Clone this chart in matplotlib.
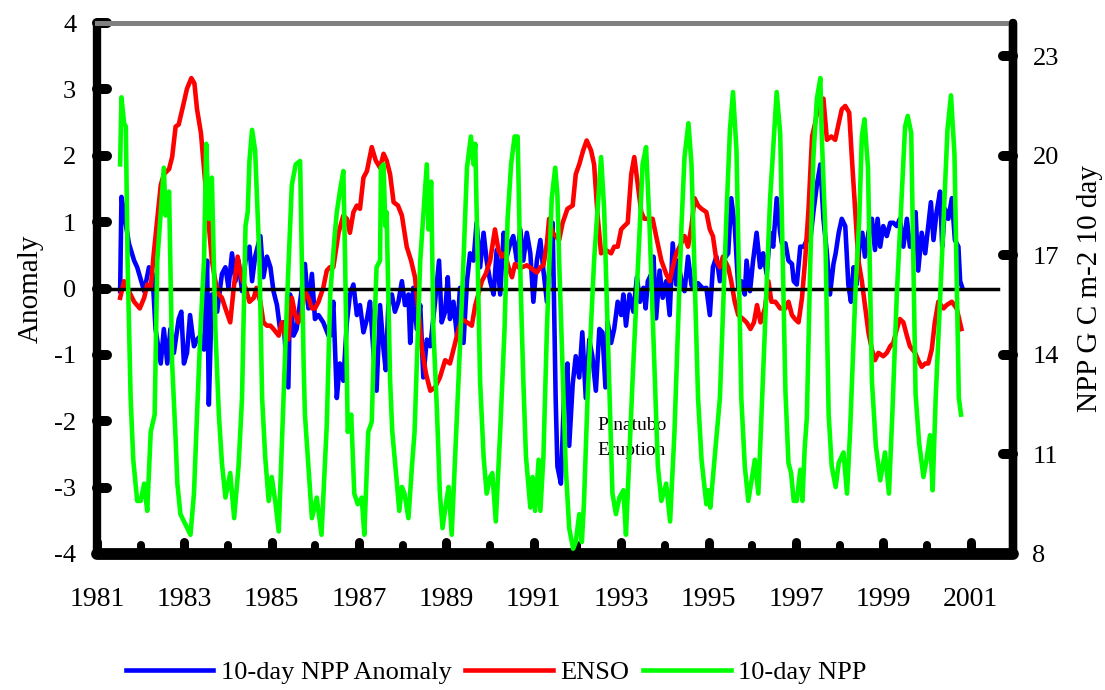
import matplotlib
matplotlib.use("Agg")
import matplotlib.pyplot as plt
from matplotlib.markers import MarkerStyle, TICKUP, TICKLEFT, TICKRIGHT

plt.rcParams['font.family'] = ['Liberation Serif', 'DejaVu Serif']
plt.rcParams['axes.unicode_minus'] = False

# 10-day NPP anomaly (left axis)
blue_years = [
    1981.53, 1981.56, 1981.58, 1981.73, 1981.85, 1981.92, 1982.08, 1982.19, 1982.27, 1982.34,
    1982.46, 1982.53, 1982.61, 1982.68, 1982.76, 1982.87, 1982.93, 1982.99, 1983.06, 1983.13,
    1983.22, 1983.29, 1983.37, 1983.45, 1983.52, 1983.56, 1983.63, 1983.75, 1983.86, 1983.94,
    1984.01, 1984.09, 1984.17, 1984.24, 1984.32, 1984.40, 1984.49, 1984.55, 1984.62, 1984.74,
    1984.81, 1984.89, 1984.97, 1985.04, 1985.12, 1985.19, 1985.27, 1985.38, 1985.42, 1985.50,
    1985.57, 1985.65, 1985.76, 1985.84, 1985.92, 1985.99, 1986.07, 1986.18, 1986.30,
    1986.34, 1986.41, 1986.49, 1986.56, 1986.64, 1986.72, 1986.79, 1986.87, 1986.95, 1987.02,
    1987.10, 1987.18, 1987.25, 1987.33, 1987.40, 1987.48, 1987.56, 1987.61, 1987.67, 1987.75,
    1987.82, 1987.90, 1987.98, 1988.05, 1988.13, 1988.17, 1988.24, 1988.32, 1988.40, 1988.47,
    1988.55, 1988.63, 1988.74, 1988.83, 1988.89, 1988.97, 1989.03, 1989.08, 1989.16, 1989.24,
    1989.31, 1989.39, 1989.47, 1989.54, 1989.62, 1989.69, 1989.77, 1989.85, 1989.92, 1990.00,
    1990.08, 1990.15, 1990.23, 1990.31, 1990.38, 1990.46, 1990.53, 1990.61, 1990.69, 1990.76,
    1990.84, 1990.92, 1990.99, 1991.07, 1991.15, 1991.22, 1991.30, 1991.37,
    1991.43, 1991.46, 1991.50, 1991.54, 1991.62, 1991.69, 1991.77, 1991.81, 1991.89, 1991.96,
    1992.04, 1992.11, 1992.19, 1992.27, 1992.34, 1992.42, 1992.50, 1992.57, 1992.64, 1992.69,
    1992.77, 1992.84, 1992.92, 1993.00, 1993.05, 1993.11, 1993.19, 1993.28, 1993.36, 1993.43,
    1993.51, 1993.56, 1993.61, 1993.69, 1993.74, 1993.80, 1993.88, 1993.95, 1994.03, 1994.11,
    1994.18, 1994.26, 1994.30, 1994.38, 1994.45, 1994.53, 1994.61, 1994.68, 1994.76, 1994.87,
    1994.95, 1995.03, 1995.10, 1995.18, 1995.26, 1995.33, 1995.45, 1995.52, 1995.60, 1995.68,
    1995.75, 1995.83, 1995.87, 1995.95, 1996.02, 1996.10, 1996.18, 1996.25, 1996.33, 1996.41,
    1996.48, 1996.56, 1996.64,
    1996.68, 1996.76, 1996.83, 1996.91, 1996.95, 1997.02, 1997.10, 1997.18, 1997.25, 1997.33,
    1997.40, 1997.48, 1997.56, 1997.63, 1997.71, 1997.78, 1997.86, 1997.91, 1997.98, 1998.05,
    1998.13, 1998.20, 1998.26, 1998.32, 1998.39, 1998.47, 1998.52, 1998.58, 1998.66, 1998.74,
    1998.81, 1998.87, 1998.93, 1999.00, 1999.08, 1999.16, 1999.23, 1999.31, 1999.38, 1999.46,
    1999.54, 1999.61, 1999.69, 1999.74, 1999.80, 1999.88, 1999.96, 2000.03, 2000.09, 2000.15,
    2000.22, 2000.30, 2000.35, 2000.41, 2000.49, 2000.57, 2000.64, 2000.72, 2000.76, 2000.81,
]
blue_vals = [
    -0.04, 1.38, 1.30, 0.68, 0.42, 0.32, -0.04, 0.32, 0.22, -0.61,
    -1.13, -0.61, -1.13, -0.61, -0.97, -0.46, -0.35, -1.13, -0.97, -0.40,
    -0.87, -0.77, -0.71, -0.92, 0.42, -1.75, -0.09, -0.35, 0.22, 0.32,
    0.01, 0.53, 0.11, 0.42, -0.04, 0.42, 0.63, 0.11, 0.48, 0.79,
    0.17, 0.48, 0.32, -0.04, -0.25, -0.61, -0.51, -1.49, -0.09, -0.71,
    -0.61, -0.20, 0.37, -0.30, 0.22, -0.46, -0.40, -0.51, -0.71,
    -0.71, -0.20, -1.65, -1.13, -1.39, -0.51, -0.09, 0.06, -0.40, -0.25,
    -0.66, -0.46, -0.20, -0.97, -1.54, -0.25, -0.92, -1.23, -0.25, -0.09,
    -0.35, -0.20, 0.11, -0.25, -0.09, -0.82, 0.01, -0.61, -0.25, -1.34,
    -0.77, -0.87, -0.20, 0.42, -0.51, -0.35, 0.17, -0.46, -0.20, -0.71,
    0.01, -0.82, 0.11, 0.53, 0.42, 0.99, 0.32, 0.84, 0.42, 0.11,
    -0.09, 0.58, -0.09, 0.84, 0.48, 0.68, 0.79, 0.42, 0.89, 0.42,
    0.84, 0.53, -0.20, 0.42, 0.73, 0.27, -0.20, 0.42,
    0.99, -0.09, -1.65, -2.68, -2.94, -1.65, -1.13, -2.37, -1.44, -1.02,
    -1.34, -0.66, -1.65, -0.77, -1.02, -1.54, -0.61, -0.66, -1.49, -0.51,
    -0.82, -0.61, -0.20, -0.40, -0.09, -0.56, -0.09, -0.35, 0.17, -0.20,
    0.01, -0.30, 0.11, 0.22, 0.48, -0.45, 0.27, -0.14, 0.11, -0.40,
    0.68, 0.06, 0.42, 0.11, -0.04, 0.48, 0.05, -0.02, 0.08, 0.00,
    0.01, -0.40, 0.32, 0.48, 0.11, 0.42, 0.53, 1.36, 0.94, 0.01,
    0.11, -0.09, 0.42, -0.04, 0.42, 0.84, 0.32, 0.53, 0.22, 0.84,
    0.63, 1.36, 0.84,
    0.68, 0.68, 0.42, 0.37, 0.11, 0.06, 0.63, 0.63, 0.73, 0.73,
    1.15, 1.56, 1.87, 1.05, 0.53, -0.09, 0.37, 0.53, 0.84, 1.05,
    0.94, 0.06, -0.20, 0.32, 0.06, 0.79, 0.84, 0.48, 0.84, 1.05,
    0.58, 1.05, 0.63, 0.94, 0.79, 0.99, 0.99, 0.94, 1.05, 0.63,
    1.05, 0.63, 0.68, 1.15, 0.27, 0.84, 0.53, 0.94, 1.30, 0.73,
    1.15, 1.46, 0.63, 1.20, 1.05, 1.36, 0.73, 0.63, 0.11, 0.01,
]

# ENSO index (left axis)
red_years = [
    1981.53, 1981.62, 1981.73, 1981.85, 1981.98, 1982.08, 1982.15, 1982.23, 1982.30, 1982.38,
    1982.46, 1982.53, 1982.65, 1982.72, 1982.80, 1982.87, 1982.97, 1983.06, 1983.16, 1983.23,
    1983.29, 1983.38, 1983.46, 1983.56, 1983.63, 1983.71, 1983.79, 1983.86, 1983.94, 1984.05,
    1984.13, 1984.22, 1984.30, 1984.40, 1984.49, 1984.59, 1984.65, 1984.74, 1984.81, 1984.89,
    1984.97, 1985.04, 1985.16, 1985.23, 1985.31, 1985.38, 1985.46, 1985.54, 1985.61, 1985.69,
    1985.76, 1985.84, 1985.92, 1985.99, 1986.07, 1986.18, 1986.26, 1986.33,
    1986.41, 1986.53, 1986.64, 1986.72, 1986.79, 1986.87, 1986.95, 1987.02, 1987.10, 1987.18,
    1987.29, 1987.38, 1987.48, 1987.56, 1987.63, 1987.71, 1987.79, 1987.89, 1987.98, 1988.09,
    1988.19, 1988.28, 1988.36, 1988.44, 1988.53, 1988.63, 1988.74, 1988.85, 1988.97, 1989.08,
    1989.16, 1989.26, 1989.35, 1989.47, 1989.58, 1989.66, 1989.73, 1989.81, 1989.90, 1990.00,
    1990.11, 1990.19, 1990.27, 1990.34, 1990.42, 1990.50, 1990.57, 1990.65, 1990.73, 1990.84,
    1990.95, 1991.07, 1991.15, 1991.22, 1991.30,
    1991.35, 1991.43, 1991.58, 1991.66, 1991.77, 1991.89, 1991.96, 1992.04, 1992.13, 1992.21,
    1992.31, 1992.38, 1992.46, 1992.54, 1992.65, 1992.77, 1992.84, 1992.92, 1993.00, 1993.07,
    1993.15, 1993.23, 1993.30, 1993.38, 1993.46, 1993.53, 1993.65, 1993.72, 1993.80, 1993.92,
    1994.03, 1994.11, 1994.18, 1994.26, 1994.34, 1994.45, 1994.53, 1994.61, 1994.68, 1994.76,
    1994.84, 1994.95, 1995.03, 1995.10, 1995.18, 1995.26, 1995.33, 1995.45, 1995.52, 1995.60,
    1995.68, 1995.79, 1995.87, 1995.96, 1996.04, 1996.11, 1996.19, 1996.29, 1996.37, 1996.44,
    1996.53, 1996.64, 1996.76, 1996.83, 1996.91, 1996.98, 1997.06, 1997.14, 1997.21, 1997.29,
    1997.37, 1997.44, 1997.52, 1997.63, 1997.71, 1997.81, 1997.90, 1997.98, 1998.05, 1998.13,
    1998.22, 1998.28, 1998.36, 1998.43, 1998.51, 1998.58, 1998.66, 1998.74, 1998.81, 1998.89,
    1999.00, 1999.08, 1999.16, 1999.23, 1999.31, 1999.38, 1999.46, 1999.54, 1999.61, 1999.73,
    1999.80, 1999.88, 1999.96, 2000.03, 2000.11, 2000.18, 2000.26, 2000.38, 2000.45, 2000.57,
    2000.68, 2000.79,
]
red_vals = [
    -0.14, 0.11, -0.04, -0.20, -0.30, -0.14, 0.06, 0.01, 0.53, 1.05,
    1.56, 1.72, 1.80, 1.98, 2.44, 2.47, 2.75, 3.01, 3.17, 3.09,
    2.70, 2.34, 1.72, 0.94, 0.42, 0.11, -0.09, -0.14, -0.30, -0.51,
    0.01, 0.48, 0.17, 0.01, -0.20, -0.14, 0.01, -0.20, -0.51, -0.56,
    -0.56, -0.61, -0.71, -0.51, -0.71, -0.77, -0.14, -0.40, -0.51, -0.35,
    -0.04, -0.14, -0.30, -0.30, -0.20, 0.01, 0.27, 0.32,
    0.32, 0.84, 1.10, 1.05, 0.84, 1.15, 1.25, 1.20, 1.67, 1.77,
    2.13, 1.93, 1.82, 2.03, 1.93, 1.72, 1.30, 1.25, 1.10, 0.63,
    0.42, 0.17, -0.35, -0.92, -1.28, -1.54, -1.49, -1.34, -1.08, -1.13,
    -0.92, -0.66, -0.46, -0.51, -0.56, -0.25, -0.09, 0.11, 0.22, 0.42,
    0.89, 0.58, 0.48, 0.53, 0.32, 0.17, 0.37, 0.32, 0.32, 0.35,
    0.30, 0.24, 0.32, 0.35, 0.68,
    1.05, 0.84, 0.73, 0.99, 1.20, 1.25, 1.72, 1.87, 2.08, 2.23,
    2.08, 1.87, 1.10, 0.53, 0.58, 0.53, 0.63, 0.63, 0.89, 0.94,
    0.99, 1.72, 1.98, 1.56, 1.15, 1.05, 1.05, 1.05, 0.79, 0.42,
    0.22, 0.11, 0.32, 0.53, 0.63, 0.79, 0.63, 0.94, 1.36, 1.25,
    1.20, 1.15, 0.89, 0.79, 0.42, 0.32, 0.48, 0.32, 0.11, -0.20,
    -0.40, -0.46, -0.51, -0.61, -0.51, -0.25, -0.51, -0.30, 0.11, -0.20,
    -0.20, -0.30, -0.30, -0.20, -0.40, -0.46, -0.51, -0.14, 0.42, 1.20,
    2.29, 2.49, 2.80, 2.86, 2.24, 2.29, 2.24, 2.49, 2.70, 2.75,
    2.65, 1.98, 1.15, 0.42, 0.11, -0.25, -0.66, -0.92, -1.08, -0.97,
    -1.02, -0.97, -0.87, -0.82, -0.61, -0.46, -0.51, -0.71, -0.87, -0.97,
    -1.08, -1.18, -1.13, -1.13, -0.92, -0.51, -0.20, -0.30, -0.25, -0.20,
    -0.30, -0.61,
]

# 10-day NPP, g C m-2 (right axis)
green_years = [
    1981.53, 1981.56, 1981.62, 1981.66, 1981.70, 1981.77, 1981.83, 1981.92, 1982.00, 1982.08,
    1982.15, 1982.23, 1982.32, 1982.38, 1982.46, 1982.53, 1982.57, 1982.65, 1982.72, 1982.80,
    1982.84, 1982.91, 1983.03, 1983.14, 1983.22, 1983.29, 1983.37, 1983.45, 1983.50, 1983.56,
    1983.63, 1983.71, 1983.79, 1983.86, 1983.94, 1984.05, 1984.14, 1984.24, 1984.32, 1984.40,
    1984.45, 1984.49, 1984.55, 1984.62, 1984.72, 1984.78, 1984.85, 1984.93, 1985.00, 1985.08,
    1985.16, 1985.27, 1985.35, 1985.46, 1985.55, 1985.65, 1985.73, 1985.76, 1985.84, 1985.92,
    1986.03, 1986.14, 1986.26,
    1986.34, 1986.44, 1986.49, 1986.56, 1986.64, 1986.68, 1986.74, 1986.82, 1986.89, 1986.97,
    1987.06, 1987.12, 1987.21, 1987.29, 1987.35, 1987.40, 1987.48, 1987.50, 1987.56, 1987.60,
    1987.63, 1987.71, 1987.76, 1987.86, 1987.92, 1987.98, 1988.04, 1988.13, 1988.21, 1988.27,
    1988.40, 1988.55, 1988.59, 1988.65, 1988.70, 1988.78, 1988.85, 1988.91, 1989.01, 1989.05,
    1989.12, 1989.24, 1989.31, 1989.39, 1989.47, 1989.56, 1989.62, 1989.66, 1989.77, 1989.85,
    1989.92, 1990.00, 1990.05, 1990.13, 1990.23, 1990.33, 1990.40, 1990.48, 1990.56, 1990.63,
    1990.70, 1990.76, 1990.82, 1990.92, 1990.97, 1991.03, 1991.11, 1991.15, 1991.22, 1991.30,
    1991.41, 1991.49,
    1991.54, 1991.58, 1991.73, 1991.81, 1991.90, 1991.96, 1992.04, 1992.10, 1992.15, 1992.23,
    1992.38, 1992.54, 1992.61, 1992.69, 1992.80, 1992.88, 1992.96, 1993.05, 1993.11, 1993.26,
    1993.42, 1993.49, 1993.57, 1993.65, 1993.76, 1993.84, 1993.92, 1994.03, 1994.12, 1994.22,
    1994.38, 1994.45, 1994.54, 1994.61, 1994.76, 1994.84, 1994.95, 1994.99, 1995.04, 1995.26,
    1995.41, 1995.49, 1995.56, 1995.64, 1995.75, 1995.83, 1995.91, 1996.06, 1996.14, 1996.29,
    1996.41, 1996.56, 1996.64,
    1996.70, 1996.76, 1996.83, 1996.89, 1996.95, 1997.02, 1997.10, 1997.15, 1997.20, 1997.25,
    1997.33, 1997.40, 1997.48, 1997.56, 1997.59, 1997.67, 1997.75, 1997.82, 1997.91, 1997.98,
    1998.09, 1998.17, 1998.24, 1998.36, 1998.45, 1998.51, 1998.57, 1998.65, 1998.74, 1998.83,
    1998.93, 1999.04, 1999.13, 1999.21, 1999.31, 1999.42, 1999.50, 1999.56, 1999.64, 1999.74,
    1999.82, 1999.92, 1999.99, 2000.07, 2000.13, 2000.20, 2000.34, 2000.47, 2000.55, 2000.63,
    2000.73, 2000.78,
]
green_vals = [
    19.74, 21.76, 20.98, 20.88, 16.84, 12.70, 10.84, 9.60, 9.60, 10.12,
    9.30, 11.68, 12.20, 16.84, 18.30, 19.64, 18.20, 18.92, 13.74, 11.46,
    10.12, 9.20, 8.88, 8.58, 9.82, 12.20, 14.78, 16.84, 20.36, 18.10,
    19.34, 14.78, 12.20, 10.74, 9.70, 10.44, 9.08, 10.64, 12.70, 17.88,
    18.30, 19.84, 20.78, 20.16, 16.84, 12.70, 10.94, 9.60, 10.32, 9.60,
    8.68, 12.70, 15.60, 19.12, 19.74, 19.84, 13.74, 12.20, 10.64, 9.08,
    9.70, 8.58, 11.88,
    15.82, 17.58, 18.30, 18.92, 19.54, 16.84, 11.68, 12.20, 9.82, 9.50,
    9.70, 8.58, 11.68, 11.98, 14.78, 16.64, 16.84, 19.64, 19.74, 17.88,
    18.30, 13.22, 11.68, 10.22, 9.30, 10.02, 9.82, 9.08, 10.64, 11.68,
    16.84, 19.74, 17.78, 19.22, 14.78, 12.40, 9.82, 8.78, 9.70, 10.02,
    8.58, 12.20, 14.26, 16.84, 19.64, 20.58, 19.74, 20.36, 13.22, 10.94,
    9.82, 10.32, 10.44, 8.98, 11.68, 14.78, 18.10, 19.74, 20.58, 20.58,
    16.02, 13.22, 10.94, 9.40, 10.32, 9.30, 10.84, 9.30, 10.94, 14.78,
    18.72, 19.64,
    18.82, 16.84, 10.64, 8.78, 8.16, 8.36, 9.20, 8.36, 9.60, 12.70,
    16.84, 19.96, 18.40, 14.78, 9.82, 9.20, 9.70, 9.92, 8.58, 13.22,
    17.68, 19.74, 20.26, 17.88, 13.74, 10.64, 9.60, 10.12, 8.98, 11.68,
    17.88, 19.96, 20.98, 19.74, 12.70, 10.84, 9.50, 9.92, 9.40, 12.70,
    18.20, 20.78, 21.92, 20.16, 12.70, 10.64, 9.60, 10.84, 9.82, 14.78,
    18.72, 21.92, 20.68,
    16.84, 12.92, 10.74, 10.44, 9.60, 9.60, 10.54, 9.60, 11.16, 12.10,
    16.84, 19.96, 21.72, 22.34, 20.68, 17.88, 12.20, 10.64, 10.02, 10.74,
    11.06, 9.82, 11.68, 15.82, 18.10, 20.58, 21.10, 19.64, 13.22, 11.26,
    10.22, 11.06, 9.82, 12.30, 15.82, 18.72, 20.88, 21.20, 20.68, 12.82,
    11.36, 10.32, 10.84, 11.58, 9.92, 12.70, 16.84, 20.78, 21.82, 20.04,
    12.70, 12.20,
]

x_labels = [1981, 1983, 1985, 1987, 1989, 1991, 1993, 1995, 1997, 1999, 2001]
x_minor = [1982, 1984, 1986, 1988, 1990, 1992, 1994, 1996, 1998, 2000]
left_ticks = [-4, -3, -2, -1, 0, 1, 2, 3, 4]
right_ticks = [8, 11, 14, 17, 20, 23]
series_names = ['10-day NPP Anomaly', 'ENSO', '10-day NPP']

fig = plt.figure(figsize=(11.05, 6.9), dpi=100)
ax = fig.add_axes([97 / 1105, 1 - 554 / 690, 916 / 1105, 531 / 690])
ax2 = ax.twinx()

lw = 3.3
l1, = ax.plot(blue_years, blue_vals, color='#0000ff', lw=lw, zorder=2)
l2, = ax.plot(red_years, red_vals, color='#ff0000', lw=lw, zorder=2.5)
ax.axhline(0, xmin=0.0153, xmax=0.9836, color='black', lw=2.5, zorder=3)
l3, = ax2.plot(green_years, green_vals, color='#00ff00', lw=lw)

ax.set_xlim(1981, 2001.97)
ax.set_ylim(-4, 4)
ax2.set_ylim(8, 24)

ax.set_xticks(x_labels, labels=[str(v) for v in x_labels])
ax.set_xticks(x_minor, minor=True)
ax.set_yticks(left_ticks, labels=[str(v) for v in left_ticks])
ax2.set_yticks(right_ticks, labels=[str(v) for v in right_ticks])

ax.tick_params(axis='x', which='major', direction='in', length=8.5, width=6.5,
               pad=24, labelsize=20, top=False)
ax.tick_params(axis='x', which='minor', direction='in', length=6.5, width=5.8, top=False)
ax.tick_params(axis='y', direction='in', length=7, width=7.2, pad=15,
               labelsize=19, right=False)
ax2.tick_params(axis='y', direction='in', length=7, width=7.2, pad=14, labelsize=19)

for s in ['left', 'right', 'bottom']:
    ax.spines[s].set_linewidth(6)
    ax.spines[s].set_color('black')
    ax.spines[s].set_capstyle('round')
ax.spines['bottom'].set_linewidth(8.5)
ax.spines['top'].set_color('#808080')
ax.spines['top'].set_linewidth(3.6)
for s in ['left', 'bottom', 'top']:
    ax2.spines[s].set_visible(False)
ax2.spines['right'].set_linewidth(6)
ax2.spines['right'].set_capstyle('round')

ax.set_ylabel('Anomaly', fontsize=21)
ax.yaxis.set_label_coords(-0.058, 0.5)
ax2.set_ylabel('NPP G C m-2 10 day', fontsize=21)
ax2.yaxis.set_label_coords(1.07, 0.5)

ax.text(1992.45, -2.25, 'Pinatubo\nEruption', fontsize=14, ha='left', va='center',
        linespacing=1.6, zorder=5)

fig.legend([l1, l2, l3], series_names, loc='center', bbox_to_anchor=(0.449, 0.026),
           ncol=3, frameon=False, fontsize=19, handlelength=3.33, handletextpad=0.27,
           columnspacing=0.53)

# round dot-like tick marks
for t in ax.xaxis.get_major_ticks() + ax.xaxis.get_minor_ticks():
    t.tick1line.set_marker(MarkerStyle(TICKUP, capstyle='round'))
for t in ax.yaxis.get_major_ticks():
    t.tick1line.set_marker(MarkerStyle(TICKRIGHT, capstyle='round'))
for t in ax2.yaxis.get_major_ticks():
    t.tick2line.set_marker(MarkerStyle(TICKLEFT, capstyle='round'))

fig.savefig('out.png', dpi=100)
